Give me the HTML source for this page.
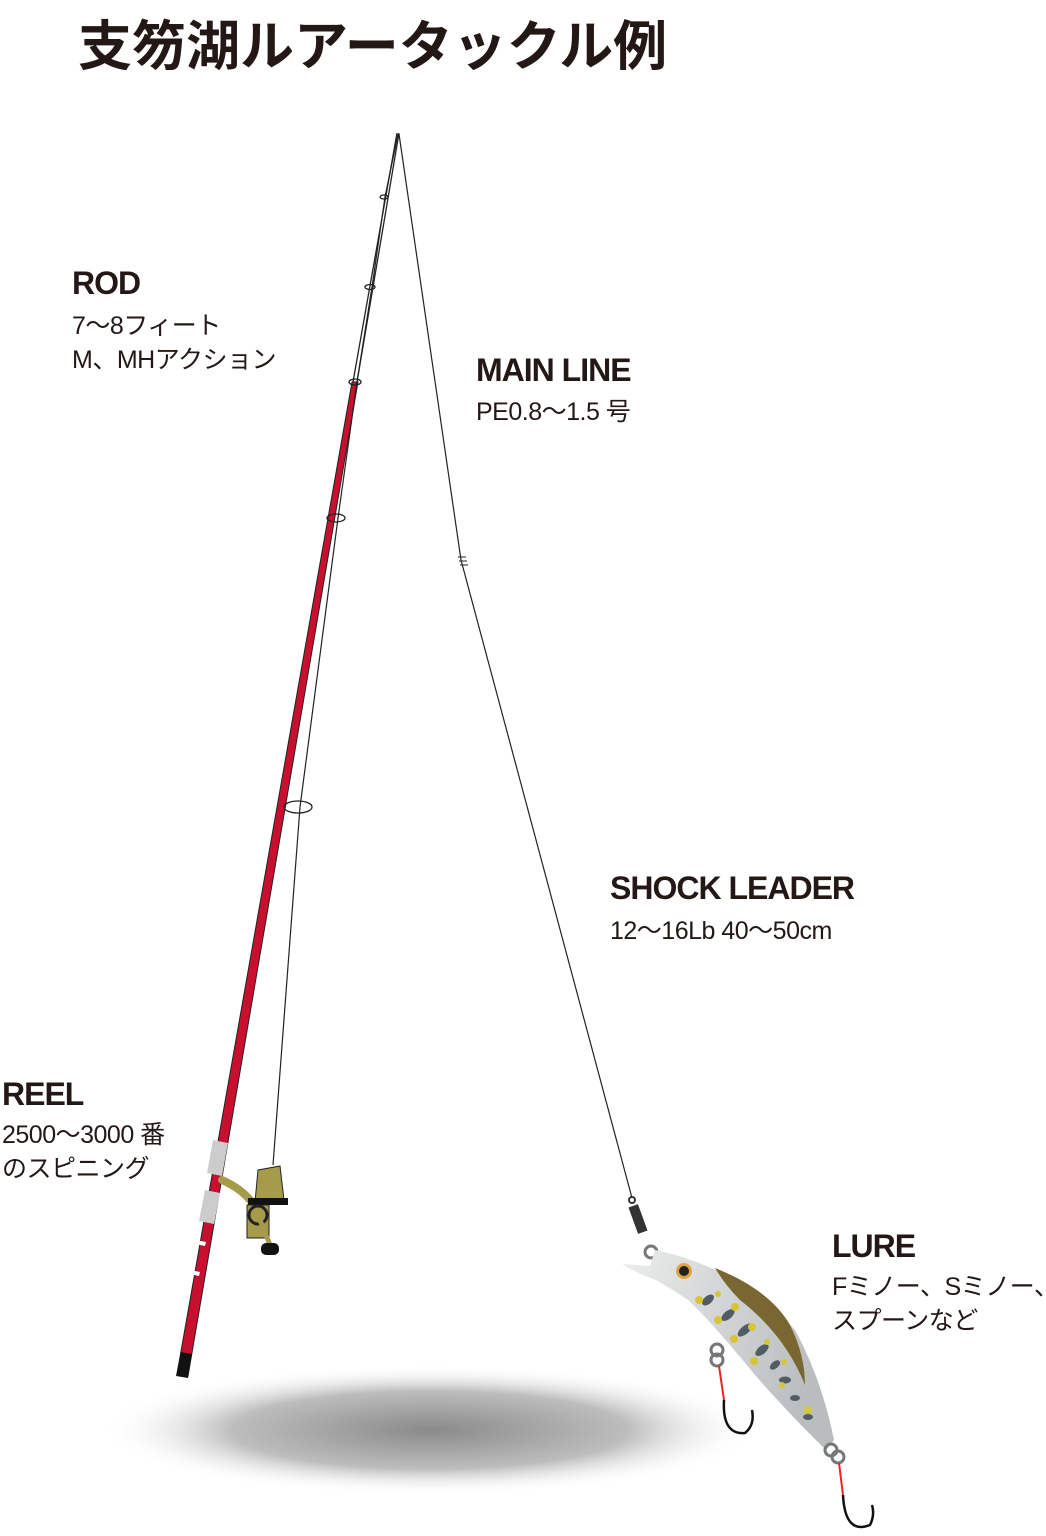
<!DOCTYPE html>
<html><head><meta charset="utf-8"><style>
body{margin:0;background:#fff;width:1046px;height:1536px;overflow:hidden;position:relative;font-family:"Liberation Sans","Noto Sans CJK JP",sans-serif;color:#231815}
.t{position:absolute;white-space:nowrap}
.h{font-weight:bold;font-size:32px;letter-spacing:-1px}
.s{font-size:25px;line-height:34px;letter-spacing:-0.5px}
</style></head><body>
<svg width="1046" height="1536" style="position:absolute;left:0;top:0">
<defs>
<radialGradient id="sh" cx="0.5" cy="0.5" r="0.5">
<stop offset="0" stop-color="#8a8a8a"/><stop offset="0.6" stop-color="#bdbdbd"/><stop offset="1" stop-color="#fff" stop-opacity="0"/></radialGradient>
<linearGradient id="bd" x1="0" y1="0" x2="1" y2="0.3"><stop offset="0" stop-color="#eceeee"/><stop offset="1" stop-color="#b9bdbd"/></linearGradient>
</defs>
<ellipse cx="430" cy="1430" rx="330" ry="65" fill="url(#sh)"/>
<path d="M397,133 L353,382 M399,133 L357,382" stroke="#222" stroke-width="1.3" fill="none"/>
<path d="M352,382 L358,382 L188,1376 L177,1374 Z" fill="#c8102e" stroke="#222" stroke-width="1"/>
<polygon points="213,1140 228,1143 222,1176 207,1173" fill="#ccc"/>
<polygon points="205,1190 220,1193 214,1224 199,1221" fill="#ccc"/>
<polygon points="196,1240 206,1242 205,1246 195,1244" fill="#fff"/>
<polygon points="190,1270 200,1272 199,1276 189,1274" fill="#fff"/>
<polygon points="181,1352 192,1354 188,1378 176,1376" fill="#111"/>
<path d="M398,134 L385,197 L372,287 L357,382 L338,518 L300,807 L273,1165" stroke="#222" stroke-width="1.2" fill="none"/>
<g stroke="#222" fill="none" stroke-width="1.3">
<ellipse cx="384" cy="197" rx="4" ry="2"/><ellipse cx="370" cy="287" rx="5" ry="2.5"/>
<ellipse cx="355" cy="382" rx="6" ry="3"/><ellipse cx="336" cy="518" rx="9" ry="4"/>
<ellipse cx="298" cy="807" rx="14" ry="6"/></g>
<path d="M399,134 L461,560 L632,1198" stroke="#222" stroke-width="1.2" fill="none"/>
<path d="M458,557h8M459,561h8M460,565h8" stroke="#222"/>
<!-- reel -->
<path d="M222,1180 Q240,1188 250,1200 Q262,1212 262,1222" stroke="#a69b4a" stroke-width="8" fill="none" stroke-linecap="round"/>
<path d="M258,1170 L280,1166 L284,1200 L255,1202 Z" fill="#a69b4a" stroke="#222"/>
<rect x="248" y="1198" width="40" height="7" fill="#111"/>
<rect x="247" y="1205" width="22" height="33" fill="#a69b4a" stroke="#222"/>
<circle cx="258" cy="1215" r="9" fill="#a69b4a" stroke="#222" stroke-width="3"/>
<path d="M258,1215 L270,1245" stroke="#a69b4a" stroke-width="5"/>
<rect x="261" y="1243" width="18" height="12" rx="5" fill="#111"/>
<!-- swivel -->
<rect x="633" y="1205" width="10" height="28" fill="#333" transform="rotate(-20 638 1219)"/>
<circle cx="632" cy="1200" r="3" fill="none" stroke="#333" stroke-width="2"/>
<circle cx="651" cy="1252" r="6" fill="none" stroke="#777" stroke-width="3"/>
<!-- lure -->
<path d="M655,1250 Q740,1268 795,1330 Q822,1380 834,1440 L826,1450 Q790,1415 755,1375 Q710,1320 688,1300 Q670,1288 656,1280 Q640,1275 622,1264 L650,1266 Z" fill="url(#bd)"/>
<path d="M715,1268 Q770,1290 790,1325 Q805,1355 805,1385 Q785,1335 740,1300 Q725,1285 715,1268 Z" fill="#7a6630"/>
<circle cx="684" cy="1271" r="8" fill="#e2a23c"/><circle cx="684" cy="1271" r="5" fill="#222"/>
<g fill="#525c66">
<ellipse cx="708" cy="1300" rx="7" ry="4" transform="rotate(-40 708 1300)"/><ellipse cx="728" cy="1315" rx="8" ry="4" transform="rotate(-40 728 1315)"/>
<ellipse cx="745" cy="1330" rx="9" ry="4" transform="rotate(-40 745 1330)"/><ellipse cx="762" cy="1350" rx="8" ry="4" transform="rotate(-40 762 1350)"/>
<ellipse cx="775" cy="1365" rx="6" ry="3.5" transform="rotate(-40 775 1365)"/><ellipse cx="785" cy="1380" rx="6" ry="3.5"/>
<ellipse cx="795" cy="1398" rx="5" ry="3"/><ellipse cx="808" cy="1417" rx="5" ry="3"/></g>
<g fill="#d8c535">
<circle cx="699" cy="1300" r="4"/><circle cx="718" cy="1294" r="3"/><circle cx="735" cy="1307" r="4"/><circle cx="718" cy="1320" r="4"/>
<circle cx="752" cy="1327" r="4"/><circle cx="734" cy="1339" r="4"/><circle cx="767" cy="1342" r="3"/><circle cx="754" cy="1361" r="4"/>
<circle cx="784" cy="1362" r="3"/><circle cx="782" cy="1385" r="3"/><circle cx="808" cy="1410" r="4"/></g>
<g fill="none" stroke="#777" stroke-width="3">
<circle cx="717" cy="1350" r="6"/><circle cx="717" cy="1360" r="6"/>
<circle cx="831" cy="1450" r="6"/><circle cx="838" cy="1457" r="6"/></g>
<path d="M719,1366 L724,1400" stroke="#e22" stroke-width="2"/>
<path d="M724,1400 Q722,1435 745,1433 Q755,1425 752,1410" stroke="#111" stroke-width="2.5" fill="none"/>
<path d="M839,1463 L843,1495" stroke="#e22" stroke-width="2"/>
<path d="M843,1495 Q845,1535 870,1525 Q875,1515 872,1505" stroke="#111" stroke-width="2.5" fill="none"/>
</svg>
<div class="t" style="left:78px;top:2px;font-size:54px;font-weight:bold">支笏湖ルアータックル例</div>
<div class="t h" style="left:72px;top:265px">ROD</div>
<div class="t s" style="left:72px;top:309px">7〜8フィート<br>M、MHアクション</div>
<div class="t h" style="left:476px;top:352px">MAIN LINE</div>
<div class="t s" style="left:476px;top:395px">PE0.8〜1.5 号</div>
<div class="t h" style="left:610px;top:870px">SHOCK LEADER</div>
<div class="t s" style="left:610px;top:914px">12〜16Lb 40〜50cm</div>
<div class="t h" style="left:2px;top:1076px">REEL</div>
<div class="t s" style="left:2px;top:1118px">2500〜3000 番<br>のスピニング</div>
<div class="t h" style="left:832px;top:1228px">LURE</div>
<div class="t s" style="left:832px;top:1270px">Fミノー、Sミノー、<br>スプーンなど</div>
</body></html>
